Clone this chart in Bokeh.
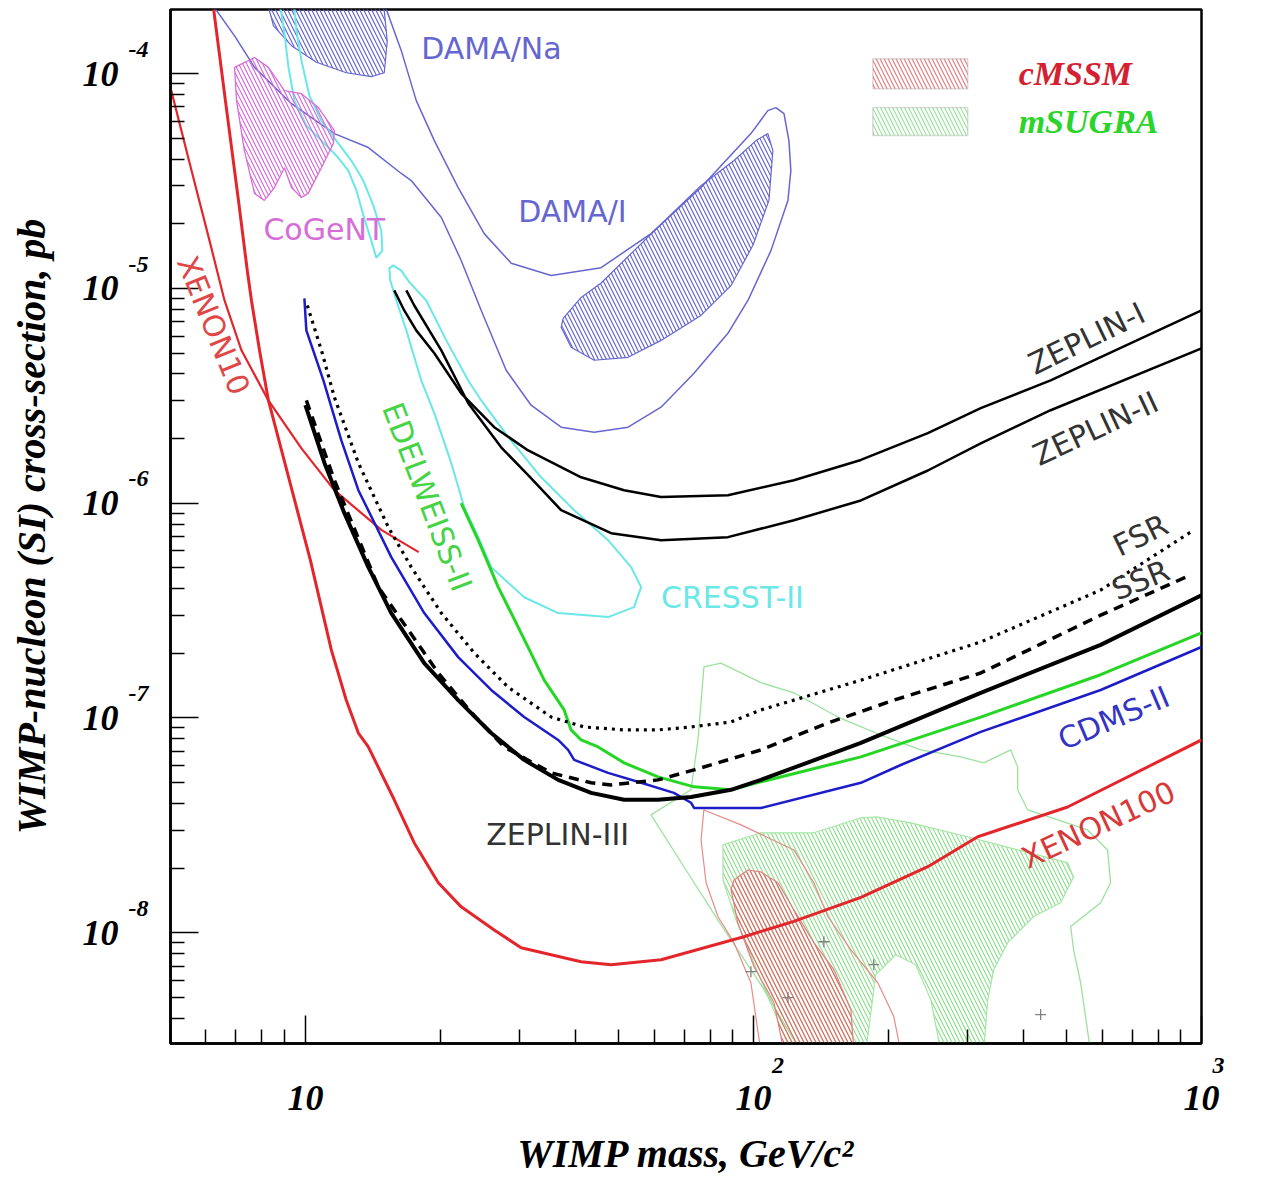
import numpy as np
from bokeh.plotting import figure
from bokeh.models import Range1d, FixedTicker, Label, CustomJSTickFormatter, BoxAnnotation
from bokeh.embed import file_html
from bokeh.resources import INLINE

# ---------------- data (WIMP mass in GeV/c^2, cross-section in pb) ----------------
xenon100_m = [6.24, 6.63, 7.09, 7.42, 7.58, 7.90, 8.27, 9.21, 10.26, 11.43, 12.34, 13.13, 13.82, 15.79, 17.50,
              19.80, 22.27, 26.39, 30.31, 41.25, 48.12, 62.2, 95.2, 123.1, 173.7, 245.0, 316.7, 502.5, 1000.0]
xenon100_s = [2.0e-4, 7.49e-5, 2.57e-5, 1.21e-5, 8.79e-6, 5.15e-6, 3.01e-6, 1.28e-6, 5.43e-7, 2.07e-7, 1.21e-7,
              8.51e-8, 7.33e-8, 4.16e-8, 2.62e-8, 1.71e-8, 1.32e-8, 1.03e-8, 8.51e-9, 7.33e-9, 7.10e-9, 7.49e-9,
              9.58e-9, 1.13e-8, 1.46e-8, 2.03e-8, 2.80e-8, 3.85e-8, 7.90e-8]

xenon10_m = [5.02, 5.57, 6.11, 6.60, 7.20, 8.27, 9.80, 11.6, 14.8, 17.9]
xenon10_s = [8.34e-5, 3.54e-5, 1.67e-5, 8.79e-6, 5.15e-6, 3.01e-6, 1.80e-6, 1.15e-6, 7.49e-7, 5.92e-7]

zep3_m = [10.0, 11.03, 12.22, 13.82, 15.55, 18.42, 21.93, 25.98, 30.78, 36.66, 43.43, 51.44, 61.25, 72.55,
          89.1, 103.9, 173.7, 321.6, 595.6, 1000.0]
zep3_s = [2.86e-6, 1.54e-6, 8.99e-7, 5.04e-7, 3.08e-7, 1.80e-7, 1.21e-7, 8.51e-8, 6.38e-8, 5.15e-8, 4.48e-8,
          4.16e-8, 4.16e-8, 4.29e-8, 4.63e-8, 5.15e-8, 7.65e-8, 1.31e-7, 2.19e-7, 3.73e-7]

ssr_m = [10.05, 11.61, 14.55, 16.37, 19.80, 23.45, 27.78, 35.37, 43.43, 48.12, 61.25, 73.68, 103.9, 146.6,
         205.7, 321.6, 595.6, 945.0]
ssr_s = [3.01e-6, 1.28e-6, 4.07e-7, 2.86e-7, 1.62e-7, 1.06e-7, 7.33e-8, 5.55e-8, 4.99e-8, 4.88e-8, 5.15e-8,
         5.73e-8, 7.10e-8, 9.48e-8, 1.21e-7, 1.62e-7, 3.01e-7, 4.63e-7]

fsr_m = [10.10, 10.86, 11.61, 13.13, 15.31, 17.23, 20.11, 23.81, 28.36, 35.37, 41.89, 51.44, 61.25, 72.55,
         89.1, 103.9, 173.7, 321.6, 595.6, 960.0]
fsr_s = [8.33e-6, 5.15e-6, 3.11e-6, 1.54e-6, 7.74e-7, 5.04e-7, 3.08e-7, 2.01e-7, 1.39e-7, 1.01e-7, 9.08e-8,
         8.80e-8, 8.80e-8, 9.08e-8, 9.58e-8, 1.09e-7, 1.50e-7, 2.26e-7, 3.94e-7, 7.49e-7]

cdms_m = [9.95, 10.05, 10.97, 12.03, 13.13, 15.55, 18.42, 21.93, 25.98, 30.78, 36.66, 38.58, 39.80, 47.38,
          56.14, 66.46, 72.55, 73.68, 89.1, 103.9, 173.7, 213.2, 321.6, 595.6, 1000.0]
cdms_s = [8.99e-6, 6.38e-6, 3.73e-6, 1.96e-6, 1.15e-6, 5.61e-7, 3.08e-7, 1.92e-7, 1.35e-7, 1.01e-7, 7.90e-8,
          7.10e-8, 6.38e-8, 5.55e-8, 4.99e-8, 4.48e-8, 4.03e-8, 3.81e-8, 3.81e-8, 3.81e-8, 4.99e-8, 6.04e-8,
          8.61e-8, 1.35e-7, 2.14e-7]

edel_m = [22.27, 24.31, 26.94, 29.85, 34.12, 37.80, 39.18, 41.25, 45.02, 51.44, 61.25, 73.68, 89.1, 103.9,
          173.7, 321.6, 595.6, 1000.0]
edel_s = [1.0e-6, 6.73e-7, 4.07e-7, 2.65e-7, 1.50e-7, 1.09e-7, 8.80e-8, 7.90e-8, 7.33e-8, 6.18e-8, 5.32e-8,
          4.78e-8, 4.63e-8, 5.04e-8, 6.59e-8, 1.01e-7, 1.59e-7, 2.49e-7]

zep1_m = [15.79, 16.62, 17.68, 19.40, 22.27, 26.39, 31.42, 41.25, 51.44, 62.2, 87.7, 123.1, 173.7, 245.0,
          321.6, 460.6, 1000.0]
zep1_s = [9.79e-6, 7.90e-6, 6.38e-6, 4.99e-6, 3.25e-6, 2.26e-6, 1.76e-6, 1.32e-6, 1.15e-6, 1.07e-6, 1.09e-6,
          1.28e-6, 1.59e-6, 2.12e-6, 2.77e-6, 3.73e-6, 7.90e-6]

zep2_m = [16.80, 17.50, 20.11, 23.09, 27.35, 31.42, 37.22, 48.12, 62.2, 87.7, 123.1, 173.7, 245.0, 321.6,
          460.6, 1000.0]
zep2_s = [9.79e-6, 8.33e-6, 5.15e-6, 2.92e-6, 1.82e-6, 1.35e-6, 9.28e-7, 7.25e-7, 6.73e-7, 6.95e-7, 8.33e-7,
          1.03e-6, 1.42e-6, 1.90e-6, 2.71e-6, 5.26e-6]

dama_out_m = [6.30, 6.95, 7.70, 9.31, 11.61, 13.82, 16.37, 17.23, 20.11, 22.27, 24.69, 28.06, 31.90, 37.22,
              44.11, 52.50, 62.2, 73.68, 87.7, 97.2, 109.4, 119.4, 121.2, 120.0, 117.0, 112.2, 107.7, 98.7,
              76.35, 59.08, 45.71, 35.37, 28.8, 25.07, 21.93, 19.40, 17.68, 16.37, 15.15]
dama_out_s = [2.0e-4, 1.50e-4, 1.07e-4, 7.25e-5, 5.26e-5, 4.53e-5, 3.43e-5, 3.18e-5, 2.14e-5, 1.35e-5, 7.90e-6,
              4.16e-6, 2.86e-6, 2.26e-6, 2.14e-6, 2.26e-6, 2.80e-6, 4.03e-6, 6.18e-6, 8.79e-6, 1.50e-5, 2.57e-5,
              3.54e-5, 4.88e-5, 6.52e-5, 6.95e-5, 6.73e-5, 5.26e-5, 2.95e-5, 1.80e-5, 1.25e-5, 1.15e-5, 1.31e-5,
              1.80e-5, 2.95e-5, 4.88e-5, 7.49e-5, 1.28e-4, 2.0e-4]

dama_i_m = [37.61, 41.25, 45.71, 54.15, 64.48, 76.35, 90.5, 101.3, 107.7, 110.5, 108.3, 99.75, 89.1, 76.35,
            62.2, 52.50, 44.11, 39.18, 37.22]
dama_i_s = [7.25e-6, 9.08e-6, 1.06e-5, 1.50e-5, 2.14e-5, 3.01e-5, 3.94e-5, 4.88e-5, 5.26e-5, 4.38e-5, 2.57e-5,
            1.59e-5, 1.03e-5, 7.49e-6, 5.73e-6, 4.78e-6, 4.63e-6, 5.32e-6, 6.59e-6]

dama_na_m = [8.19, 8.49, 9.31, 10.58, 12.34, 14.03, 15.0, 15.23, 14.92]
dama_na_s = [2.2e-4, 1.67e-4, 1.35e-4, 1.13e-4, 1.01e-4, 9.68e-5, 1.01e-4, 1.42e-4, 2.2e-4]

cogent_m = [6.95, 7.70, 8.27, 8.98, 9.80, 10.69, 11.61, 11.55, 10.86, 10.15, 9.80, 9.31, 8.98, 8.53, 8.10,
            7.70, 7.31, 7.02]
cogent_s = [1.07e-4, 1.19e-4, 1.07e-4, 8.33e-5, 8.07e-5, 6.95e-5, 5.43e-5, 4.73e-5, 3.65e-5, 2.77e-5, 2.65e-5,
            2.95e-5, 3.65e-5, 2.95e-5, 2.57e-5, 2.77e-5, 4.38e-5, 7.49e-5]

cresst1_m = [8.75, 8.98, 9.17, 9.45, 10.05, 10.86, 11.72, 12.47, 13.0, 13.47, 14.03, 14.4, 14.85, 14.77, 14.18,
             13.47, 12.66, 11.72, 10.86, 10.21, 9.80, 9.55, 9.40]
cresst1_s = [2.2e-4, 1.54e-4, 1.07e-4, 7.49e-5, 5.73e-5, 4.88e-5, 4.16e-5, 3.54e-5, 2.86e-5, 2.19e-5, 1.67e-5,
             1.39e-5, 1.50e-5, 1.86e-5, 2.43e-5, 3.18e-5, 3.94e-5, 4.88e-5, 6.04e-5, 7.90e-5, 1.15e-4, 1.59e-4,
             2.2e-4]

cresst2_m = [15.39, 15.71, 16.37, 17.06, 18.61, 20.63, 23.09, 24.69, 28.36, 33.59, 39.80, 47.38, 53.33, 56.14,
             54.15, 47.38, 36.66, 30.78, 25.98, 24.31, 22.62, 21.16, 19.40, 18.14, 16.80, 15.96, 15.47]
cresst2_s = [1.24e-5, 1.28e-5, 1.21e-5, 1.07e-5, 8.79e-6, 5.73e-6, 3.73e-6, 3.01e-6, 2.03e-6, 1.32e-6, 9.28e-7,
             6.73e-7, 5.04e-7, 4.07e-7, 3.28e-7, 2.95e-7, 3.08e-7, 3.65e-7, 5.04e-7, 6.95e-7, 9.58e-7, 1.54e-6,
             2.62e-6, 3.73e-6, 6.38e-6, 8.79e-6, 1.09e-5]

cmssm_hatch_m = [89.1, 90.5, 97.2, 103.9, 113.4, 123.1, 136.4, 151.2, 165.0, 167.6, 117.0, 111.1, 100.3, 92.3]
cmssm_hatch_s = [1.59e-8, 1.76e-8, 1.96e-8, 1.92e-8, 1.71e-8, 1.28e-8, 8.99e-9, 6.73e-9, 4.38e-9, 2.8e-9,
                 2.8e-9, 4.73e-9, 6.95e-9, 1.11e-8]

cmssm_out_m = [103.9, 98.7, 90.5, 83.3, 78.4, 76.4, 77.5, 93.8, 123.1, 136.4, 146.6, 165.0, 189.5, 205.7, 213.2]
cmssm_out_s = [2.8e-9, 5.85e-9, 8.99e-9, 1.19e-8, 1.71e-8, 2.71e-8, 3.73e-8, 3.18e-8, 2.43e-8, 1.71e-8,
               1.19e-8, 8.33e-9, 5.85e-9, 4.07e-9, 2.8e-9]

msugra_hatch_m = [85.5, 103.9, 136.4, 173.7, 189.5, 224.5, 300.8, 388.8, 502.5, 518.2, 484.8, 422.1, 369.3,
                  343.8, 333.4, 326.6, 261.9, 248.8, 230.3, 207.8, 187.5, 178.2, 121.2, 103.9, 91.4, 85.5]
msugra_hatch_s = [2.57e-8, 2.92e-8, 2.92e-8, 3.43e-8, 3.46e-8, 3.25e-8, 2.80e-8, 2.43e-8, 2.12e-8, 1.82e-8,
                  1.38e-8, 1.19e-8, 8.99e-9, 6.73e-9, 4.88e-9, 2.8e-9, 2.8e-9, 4.88e-9, 7.10e-9, 7.90e-9,
                  6.38e-9, 2.8e-9, 2.8e-9, 6.04e-9, 1.15e-8, 1.76e-8]

msugra_out_m = [127.6, 103.9, 84.6, 70.7, 59.08, 72.55, 75.2, 77.54, 84.6, 103.9, 123.1, 154.3, 192.4, 236.3,
                290.2, 326.6, 375.1, 388.8, 388.8, 409.4, 556.9, 617.1, 626.8, 595.6, 510.5, 518.2, 537.3, 565.5]
msugra_out_s = [2.8e-9, 5.73e-9, 1.09e-8, 1.96e-8, 3.54e-8, 4.63e-8, 7.90e-8, 1.73e-7, 1.80e-7, 1.46e-7,
                1.31e-7, 1.01e-7, 8.33e-8, 7.10e-8, 6.59e-8, 6.18e-8, 7.10e-8, 5.92e-8, 4.63e-8, 3.73e-8,
                3.01e-8, 2.43e-8, 1.71e-8, 1.38e-8, 1.07e-8, 8.33e-9, 5.85e-9, 2.8e-9]

bench_m = [98.7, 119.4, 143.6, 185.6, 437.5]
bench_s = [6.59e-9, 4.99e-9, 9.08e-9, 7.10e-9, 4.16e-9]

x_major = [10, 100, 1000]
x_exponents = ["2", "3"]          # for 10^2 and 10^3 (10^1 is written as "10")
y_major = [1e-8, 1e-7, 1e-6, 1e-5, 1e-4]
y_exponents = ["-4", "-5", "-6", "-7", "-8"]
legend_names = ["cMSSM", "mSUGRA"]

# ---------------- styles ----------------
RED = "#e3262b"
BLUE = "#1c1cc8"
GREEN = "#25d625"
DAMA = "#6666d0"
CYAN = "#6ae8e8"
MAGENTA = "#d66ed8"
SERIF = "Liberation Serif"
SANS = "DejaVu Sans"

p = figure(x_axis_type="log", y_axis_type="log",
           x_range=Range1d(5, 1000), y_range=Range1d(3.05e-9, 1.99e-4),
           frame_width=1031, frame_height=1034,
           min_border_left=170, min_border_right=50, min_border_top=9, min_border_bottom=134,
           output_backend="svg", toolbar_location=None,
           background_fill_color="white", border_fill_color="white")
p.grid.visible = False
p.outline_line_color = "black"
p.outline_line_width = 2.5

xminor = [k * 10.0 ** e for e in range(0, 3) for k in range(2, 10)]
yminor = [k * 10.0 ** e for e in range(-9, -3) for k in range(2, 10)]
p.xaxis.ticker = FixedTicker(ticks=x_major, minor_ticks=xminor)
p.yaxis.ticker = FixedTicker(ticks=y_major, minor_ticks=yminor)
p.xaxis.formatter = CustomJSTickFormatter(code="return '10';")
p.yaxis.formatter = CustomJSTickFormatter(code="return '10';")
for ax in (p.xaxis[0], p.yaxis[0]):
    ax.axis_line_width = 2.5
    ax.major_tick_in = 28
    ax.major_tick_out = 0
    ax.minor_tick_in = 14
    ax.minor_tick_out = 0
    ax.major_tick_line_width = 1.5
    ax.minor_tick_line_width = 1.5
    ax.major_label_text_font = SERIF
    ax.major_label_text_font_style = "bold italic"
    ax.major_label_text_font_size = "36px"
    ax.major_label_text_color = "black"
    ax.axis_label_text_font = SERIF
    ax.axis_label_text_font_style = "bold italic"
    ax.axis_label_text_font_size = "40px"
    ax.axis_label_text_color = "black"
p.xaxis.major_label_standoff = 42
p.xaxis.axis_label_standoff = 18
p.yaxis.major_label_standoff = 52
p.yaxis.axis_label_standoff = 26
p.xaxis.axis_label = "WIMP mass, GeV/c²"
p.yaxis.axis_label = "WIMP-nucleon (SI) cross-section, pb"

# ---------------- regions ----------------
p.patch(msugra_hatch_m, msugra_hatch_s, fill_color="white", fill_alpha=0.0,
        hatch_pattern="\\", hatch_color="#8fe08f", hatch_scale=8, hatch_weight=1.2,
        line_color="#a6e6a6", line_width=1.2)
p.line(msugra_out_m, msugra_out_s, line_color="#9be29b", line_width=1.3)
p.patch(cmssm_hatch_m, cmssm_hatch_s, fill_color="white", fill_alpha=0.0,
        hatch_pattern="\\", hatch_color="#e26a6a", hatch_scale=8, hatch_weight=1.2,
        line_color="#e28080", line_width=1.2)
p.line(cmssm_out_m, cmssm_out_s, line_color="#e88a8a", line_width=1.2)
p.scatter(bench_m, bench_s, marker="cross", size=11, line_color="#808080", line_width=1.3)

p.line(dama_out_m, dama_out_s, line_color=DAMA, line_width=1.5)
p.patch(dama_i_m, dama_i_s, fill_color="white", fill_alpha=0.0,
        hatch_pattern="\\", hatch_color=DAMA, hatch_scale=8, hatch_weight=1.2,
        line_color=DAMA, line_width=1.2)
p.patch(dama_na_m, dama_na_s, fill_color="white", fill_alpha=0.0,
        hatch_pattern="\\", hatch_color=DAMA, hatch_scale=8, hatch_weight=1.2,
        line_color=DAMA, line_width=1.2)
p.patch(cresst1_m, cresst1_s, fill_color=None, line_color=CYAN, line_width=2)
p.patch(cresst2_m, cresst2_s, fill_color=None, line_color=CYAN, line_width=2)
p.patch(cogent_m, cogent_s, fill_color="white", fill_alpha=0.0,
        hatch_pattern="\\", hatch_color=MAGENTA, hatch_scale=8, hatch_weight=1.2,
        line_color=MAGENTA, line_width=1.3)

# ---------------- limit curves ----------------
p.line(zep1_m, zep1_s, line_color="black", line_width=2.5)
p.line(zep2_m, zep2_s, line_color="black", line_width=2.5)
p.line(xenon10_m, xenon10_s, line_color=RED, line_width=2.2)
p.line(edel_m, edel_s, line_color=GREEN, line_width=3)
p.line(cdms_m, cdms_s, line_color=BLUE, line_width=2.5)
p.line(fsr_m, fsr_s, line_color="black", line_width=3.2, line_dash="3 5")
p.line(ssr_m, ssr_s, line_color="black", line_width=3.5, line_dash="10 7")
p.line(zep3_m, zep3_s, line_color="black", line_width=4)
p.line(xenon100_m, xenon100_s, line_color=RED, line_width=3)

# ---------------- curve labels ----------------
def lab(x, y, text, color, angle=0.0, align="left", size="30px", font=SANS, style="normal"):
    p.add_layout(Label(x=x, y=y, text=text, text_color=color, angle=angle, text_align=align,
                       text_baseline="middle", text_font=font, text_font_size=size,
                       text_font_style=style))

lab(18.14, 1.31e-4, "DAMA/Na", DAMA)
lab(29.85, 2.28e-5, "DAMA/I", DAMA)
lab(8.06, 1.88e-5, "CoGeNT", MAGENTA)
lab(6.24, 6.73e-6, "XENON10", "#e04848", angle=-np.radians(68), align="center")
lab(18.71, 1.07e-6, "EDELWEISS-II", "#44d444", angle=-np.radians(69), align="center")
lab(62.2, 3.65e-7, "CRESST-II", CYAN)
lab(554.0, 5.85e-6, "ZEPLIN-I", "#333333", angle=np.radians(26), align="center")
lab(580.0, 2.23e-6, "ZEPLIN-II", "#333333", angle=np.radians(25), align="center")
lab(731.0, 7.10e-7, "FSR", "#333333", angle=np.radians(26), align="center")
lab(731.0, 4.39e-7, "SSR", "#333333", angle=np.radians(22), align="center")
lab(637.0, 1.0e-7, "CDMS-II", "#3434c4", angle=np.radians(23), align="center")
lab(589.0, 3.18e-8, "XENON100", "#d83a3a", angle=np.radians(25), align="center")
lab(25.32, 2.86e-8, "ZEPLIN-III", "#333333")

# ---------------- tick-label exponents (side-panel labels are not clipped to the frame) ----------------
EXP_FONT = dict(text_color="black", text_font=SERIF, text_font_style="bold italic", text_font_size="24px",
                text_align="left", text_baseline="middle")
# one multi-line label whose line pitch equals one decade on the y axis
p.add_layout(Label(x=4.03, y=1e-6 * 1.307, text="\n".join(y_exponents), text_line_height=8.257, **EXP_FONT),
             "right")
for xm, ex in zip(x_major[1:], x_exponents):
    p.add_layout(Label(x=xm * (1.10 if xm == 100 else 1.058), y=2.41e-9, text=ex, **EXP_FONT), "right")

# ---------------- legend (hatched swatches + names) ----------------
p.add_layout(BoxAnnotation(left=184.7, right=300.8, bottom=8.51e-5, top=1.175e-4,
                           fill_color="white", fill_alpha=0.0, hatch_pattern="\\", hatch_color="#e58080",
                           hatch_scale=8, hatch_weight=1.2, line_color="#8a8a8a", line_width=1.5))
p.add_layout(BoxAnnotation(left=184.7, right=300.8, bottom=5.15e-5, top=6.95e-5,
                           fill_color="white", fill_alpha=0.0, hatch_pattern="\\", hatch_color="#9de49d",
                           hatch_scale=8, hatch_weight=1.2, line_color="#8a8a8a", line_width=1.5))
lab(390.8, 1.0e-4, legend_names[0], "#d42030", size="34px", font=SERIF, style="bold italic")
lab(390.8, 5.98e-5, legend_names[1], "#2ad42a", size="34px", font=SERIF, style="bold italic")

open("out.html", "w").write(file_html(p, INLINE))
